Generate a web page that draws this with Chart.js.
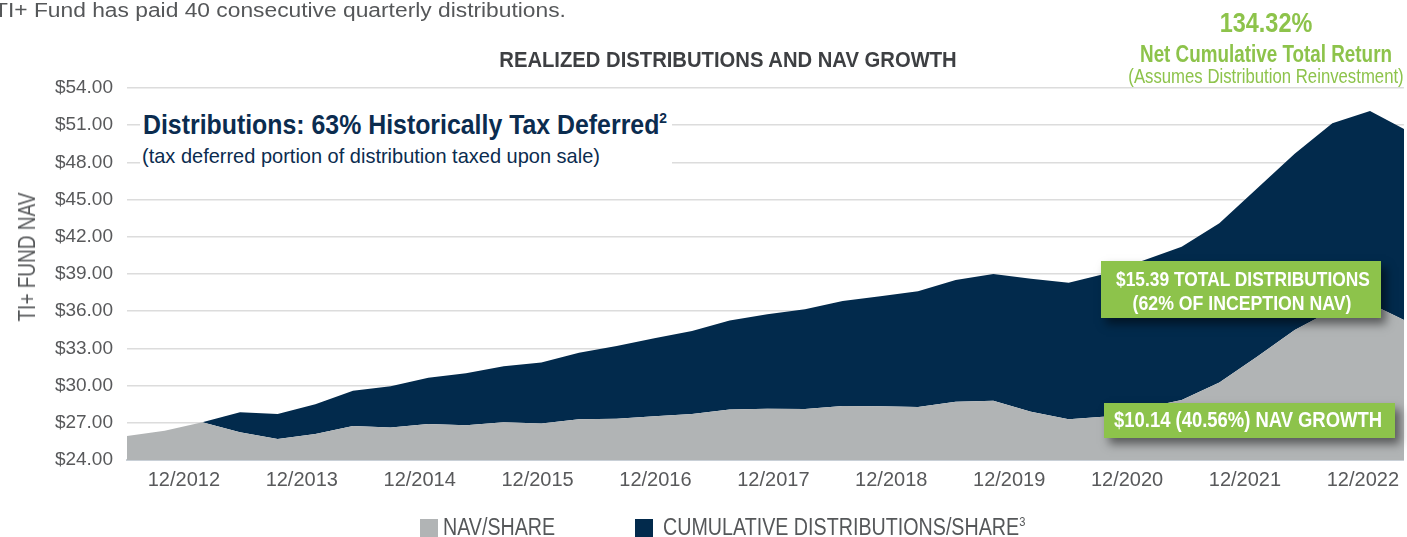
<!DOCTYPE html>
<html>
<head>
<meta charset="utf-8">
<script src="https://cdn.jsdelivr.net/npm/chart.js@4.4.1/dist/chart.umd.min.js"></script>
<style>
  html, body { margin: 0; padding: 0; background: #fff; }
  body { width: 1407px; height: 537px; overflow: hidden; position: relative;
         font-family: "Liberation Sans", Arial, sans-serif; }
  #chart1 { position: absolute; left: 0; top: 0; }
  .abs { position: absolute; white-space: nowrap; }
  .b { font-weight: bold; }
  .gray { color: #555759; }
  .green { color: #8dc34b; }
  .navy { color: #0b2c4f; }
  .white { color: #fff; }
  #note { position: absolute; left: 140px; top: 101px; width: 532px; height: 77px; background: #fff; }
  .gbox { position: absolute; background: #8dc34b; box-shadow: 5px 6px 9px rgba(0,0,0,0.5); }
  .sw { position: absolute; top: 519px; width: 18px; height: 18px; }
  sup { line-height: 0; }
</style>
</head>
<body>
<canvas id="chart1" width="1407" height="537"></canvas>

<!-- x: anchor, w: target width, c: centred on anchor -->
<span class="abs gray" data-w="572" style="left:-6px;top:0px;font-size:20px;line-height:20px">TI+ Fund has paid 40 consecutive quarterly distributions.</span>
<span class="abs b" data-w="457" data-c="1" style="left:728px;top:49px;font-size:22px;line-height:22px;color:#3d3f42">REALIZED DISTRIBUTIONS AND NAV GROWTH</span>
<span class="abs b green" data-w="93" data-c="1" style="left:1266px;top:9px;font-size:28px;line-height:28px">134.32%</span>
<span class="abs b green" data-w="252" data-c="1" style="left:1266px;top:42px;font-size:24px;line-height:24px">Net Cumulative Total Return</span>
<span class="abs green" data-w="275" data-c="1" style="left:1266px;top:65px;font-size:21px;line-height:21px">(Assumes Distribution Reinvestment)</span>

<div id="note"></div>
<span class="abs b navy" data-w="524" style="left:143px;top:112px;font-size:27px;line-height:27px">Distributions: 63% Historically Tax Deferred<sup style="font-size:15px;vertical-align:11px">2</sup></span>
<span class="abs navy" data-w="458" style="left:142px;top:145px;font-size:21px;line-height:21px">(tax deferred portion of distribution taxed upon sale)</span>

<div class="gbox" style="left:1101px;top:261px;width:280px;height:57px"></div>
<div class="gbox" style="left:1104px;top:403px;width:291px;height:35px"></div>
<span class="abs b white" data-w="254" data-c="1" style="left:1243px;top:268px;font-size:21px;line-height:21px">$15.39 TOTAL DISTRIBUTIONS</span>
<span class="abs b white" data-w="219" data-c="1" style="left:1242px;top:292px;font-size:21px;line-height:21px">(62% OF INCEPTION NAV)</span>
<span class="abs b white" data-w="268" data-c="1" style="left:1248px;top:409px;font-size:22px;line-height:22px">$10.14 (40.56%) NAV GROWTH</span>

<span class="abs gray" id="ytitle" data-w="129" style="left:27px;top:257px;font-size:24px;line-height:24px">TI+ FUND NAV</span>

<div class="sw" style="left:420px;background:#b1b4b5"></div>
<span class="abs gray" data-w="112" style="left:443px;top:516px;font-size:23px;line-height:23px">NAV/SHARE</span>
<div class="sw" style="left:635px;background:#022a4c"></div>
<span class="abs gray" data-w="362" style="left:663px;top:516px;font-size:23px;line-height:23px">CUMULATIVE DISTRIBUTIONS/SHARE<sup style="font-size:13px;vertical-align:9px">3</sup></span>

<script>
// NAV per share at each plotted point
var navPerShare = [25.94, 26.36, 27.04, 26.23, 25.69, 26.10, 26.74, 26.63, 26.90, 26.80,
                   27.04, 26.95, 27.28, 27.33, 27.52, 27.71, 28.08, 28.14, 28.11, 28.35,
                   28.33, 28.28, 28.70, 28.78, 27.90, 27.28, 27.50, 28.20, 28.84, 30.24,
                   32.33, 34.48, 36.10, 36.63, 35.14];
// cumulative distributions per share, stacked on top of NAV
var cumDistPerShare = [0, 0, 0, 1.62, 2.02, 2.39, 2.85, 3.31, 3.74, 4.19,
                       4.52, 4.91, 5.37, 5.86, 6.29, 6.69, 7.16, 7.61, 8.04, 8.47,
                       8.87, 9.32, 9.82, 10.22, 10.72, 11.02, 11.55, 11.90, 12.36, 12.86,
                       13.57, 14.22, 15.05, 15.52, 15.39];
var tickLabels = ['12/2012', '12/2013', '12/2014', '12/2015', '12/2016', '12/2017',
                  '12/2018', '12/2019', '12/2020', '12/2021', '12/2022'];
// where each year label sits, in point units
var tickAt = [1.51, 4.64, 7.77, 10.90, 14.03, 17.16, 20.29, 23.42, 26.55, 29.68, 32.81];

var GRAY_TXT = '#58595b';

// squeeze the html texts to the condensed widths of the original
document.querySelectorAll('[data-w]').forEach(function(el) {
    var s = +el.dataset.w / el.offsetWidth;
    if (el.id == 'ytitle') {
        el.style.transformOrigin = 'center';
        el.style.transform = 'translate(-50%, -50%) rotate(-90deg) scaleX(' + s + ')';
    } else if (el.dataset.c) {
        el.style.transformOrigin = 'center';
        el.style.transform = 'translateX(-50%) scaleX(' + s + ')';
    } else {
        el.style.transformOrigin = 'left';
        el.style.transform = 'scaleX(' + s + ')';
    }
});

var ctx = document.getElementById('chart1').getContext('2d');
var chart1 = new Chart(ctx, {
    type: 'line',
    data: {
        datasets: [{
            label: 'NAV/SHARE',
            data: navPerShare.map(function(v, i) { return {x: i, y: v}; }),
            backgroundColor: '#b1b4b5',
            borderWidth: 0,
            pointRadius: 0,
            fill: 'origin'
        }, {
            label: 'CUMULATIVE DISTRIBUTIONS/SHARE',
            data: cumDistPerShare.map(function(v, i) { return {x: i, y: v}; }),
            backgroundColor: '#022a4c',
            borderWidth: 0,
            pointRadius: 0,
            fill: '-1'
        }]
    },
    options: {
        responsive: false,
        animation: false,
        layout: { padding: { top: 88, right: 0, bottom: 0, left: 0 } },
        plugins: {
            legend: { display: false },
            title: { display: false },
            tooltip: { enabled: false }
        },
        scales: {
            x: {
                type: 'linear',
                min: 0,
                max: 33.9,
                afterFit: function(s) { s.height = 77; },
                afterBuildTicks: function(s) {
                    s.ticks = tickAt.map(function(v) { return {value: v}; });
                },
                grid: { display: false, drawTicks: false },
                border: { display: true, color: '#c9d0d7', width: 2 },
                ticks: {
                    autoSkip: false,
                    maxRotation: 0,
                    padding: 8,
                    color: GRAY_TXT,
                    font: { family: '"Liberation Sans", Arial, sans-serif', size: 20 },
                    callback: function(v, i) { return tickLabels[i]; }
                }
            },
            y: {
                stacked: true,
                min: 24,
                max: 54,
                afterFit: function(s) { s.width = 127; },
                grid: { color: '#dcdcdc', lineWidth: 1.5, drawTicks: false },
                border: { display: false },
                ticks: {
                    stepSize: 3,
                    padding: 14,
                    color: GRAY_TXT,
                    font: { family: '"Liberation Sans", Arial, sans-serif', size: 19 },
                    callback: function(v) { return '$' + v.toFixed(2); }
                }
            }
        }
    }
});
</script>
</body>
</html>
